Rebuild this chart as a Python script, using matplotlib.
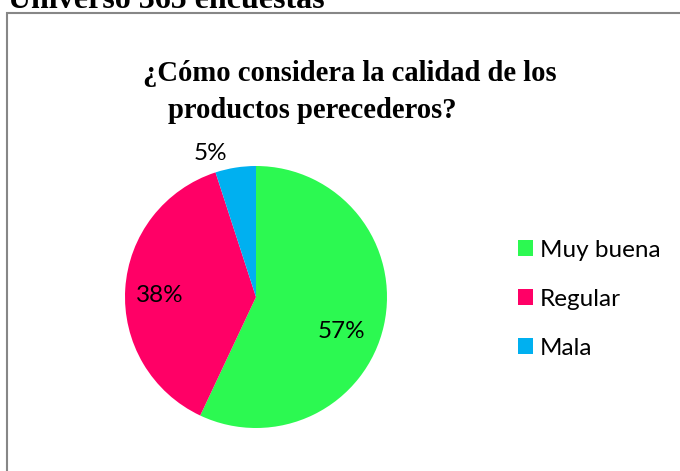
import matplotlib
matplotlib.use("Agg")
import matplotlib.pyplot as plt
from matplotlib.patches import Rectangle, Patch

categories = ["Muy buena", "Regular", "Mala"]
values = [57, 38, 5]
colors = ["#2CF951", "#FF0066", "#00B0F0"]
title_line1 = "¿Cómo considera la calidad de los"
title_line2 = "productos perecederos?"
header = "Universo 365 encuestas"

W, H = 680, 471
fig = plt.figure(figsize=(W / 100, H / 100), dpi=100)

def fx(px):
    return px / W

def fy(py):
    return 1 - py / H

# border of the chart area (top and left visible)
fig.patches.append(Rectangle((fx(7), fy(H + 20)), fx(W + 20), (H + 20 - 13) / H,
                             transform=fig.transFigure, fill=False,
                             edgecolor="#878787", linewidth=1.5, clip_on=False))

fig.text(fx(8), fy(8), header, family="Liberation Serif", weight="bold",
         fontsize=23, ha="left", va="baseline")
fig.text(fx(143), fy(81), title_line1, family="Liberation Serif", weight="bold",
         fontsize=20.6, ha="left", va="baseline")
fig.text(fx(168), fy(118), title_line2, family="Liberation Serif", weight="bold",
         fontsize=20.6, ha="left", va="baseline")

cx, cy, r = 256, 297, 131
ax = fig.add_axes([fx(cx - r), fy(cy + r), 2 * r / W, 2 * r / H])
wedges, texts, autotexts = ax.pie(values, colors=colors, startangle=90,
                                  counterclock=False, autopct="%1.0f%%",
                                  radius=1, pctdistance=0.6,
                                  textprops=dict(family="Lato", fontsize=17.5, color="black"),
                                  wedgeprops=dict(linewidth=0))
ax.set_xlim(-1, 1)
ax.set_ylim(-1, 1)
ax.set_aspect("equal")
ax.axis("off")

label_pos = [(341, 331), (160, 296), (210, 153)]
for t, (px, py) in zip(autotexts, label_pos):
    t.set_position(((px - cx) / r, (cy - py) / r))
    t.set_ha("center")
    t.set_va("center")

handles = [Patch(facecolor=c, edgecolor="none") for c in colors]
leg = fig.legend(handles, categories, loc="upper left",
                 bbox_to_anchor=(fx(496), fy(218)), frameon=False,
                 prop=dict(family="Lato", size=17.5), handlelength=0.62,
                 handleheight=0.62, handletextpad=0.3, labelspacing=1.15)

fig.savefig("out.png", dpi=100)
